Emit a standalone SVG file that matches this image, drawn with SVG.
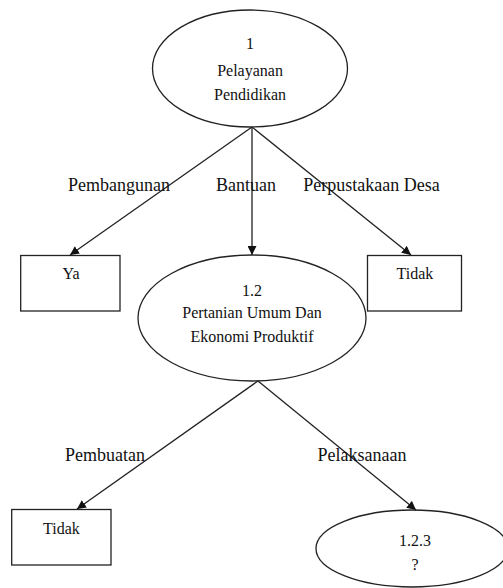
<svg xmlns="http://www.w3.org/2000/svg" width="503" height="588" viewBox="0 0 503 588">
<style>
.shape{fill:#fff;stroke:#222;stroke-width:1.3}
.edge{fill:none;stroke:#222;stroke-width:1.3}
.ntext{font-family:"Liberation Serif","Times New Roman",serif;font-size:16px;fill:#111;text-anchor:middle}
.lbl{font-family:"Liberation Serif","Times New Roman",serif;font-size:18px;fill:#111;text-anchor:middle}
</style>
<defs>
<marker id="arr" viewBox="0 0 10 10" refX="10" refY="5" markerWidth="9" markerHeight="9" markerUnits="userSpaceOnUse" orient="auto">
<path d="M0,0 L10,5 L0,10 z" fill="#111"/>
</marker>
</defs>
<rect width="503" height="588" fill="#fff"/>
<g id="connectors">
<line class="edge" x1="252" y1="127" x2="70" y2="255" marker-end="url(#arr)"/>
<line class="edge" x1="252" y1="127" x2="252" y2="255" marker-end="url(#arr)"/>
<line class="edge" x1="252" y1="127" x2="411" y2="255" marker-end="url(#arr)"/>
<line class="edge" x1="258" y1="381" x2="77" y2="509" marker-end="url(#arr)"/>
<line class="edge" x1="258" y1="381" x2="416" y2="510" marker-end="url(#arr)"/>
</g>
<g id="labels">
<text class="lbl" x="119" y="191">Pembangunan</text>
<text class="lbl" x="246" y="191">Bantuan</text>
<text class="lbl" x="371.5" y="191">Perpustakaan Desa</text>
<text class="lbl" x="105" y="461">Pembuatan</text>
<text class="lbl" x="362" y="461">Pelaksanaan</text>
</g>
<g id="node-1">
<ellipse class="shape" cx="250" cy="68.5" rx="97.5" ry="58.5"/>
<text class="ntext" font-family="Liberation Serif, serif" x="250" y="49">1</text>
<text class="ntext" font-family="Liberation Serif, serif" x="250" y="76">Pelayanan</text>
<text class="ntext" font-family="Liberation Serif, serif" x="250" y="100">Pendidikan</text>
</g>
<g id="node-ya">
<rect class="shape" x="20.7" y="255.5" width="99.3" height="55.5"/>
<text class="ntext" font-family="Liberation Serif, serif" x="71" y="279">Ya</text>
</g>
<g id="node-tidak-1">
<rect class="shape" x="367.5" y="255.5" width="94" height="55.5"/>
<text class="ntext" font-family="Liberation Serif, serif" x="415" y="279">Tidak</text>
</g>
<g id="node-1-2">
<ellipse class="shape" cx="252" cy="318" rx="114" ry="63"/>
<text class="ntext" font-family="Liberation Serif, serif" x="252" y="296">1.2</text>
<text class="ntext" font-family="Liberation Serif, serif" x="252" y="318">Pertanian Umum Dan</text>
<text class="ntext" font-family="Liberation Serif, serif" x="252" y="341.5">Ekonomi Produktif</text>
</g>
<g id="node-tidak-2">
<rect class="shape" x="11.7" y="509.5" width="99.3" height="55.5"/>
<text class="ntext" font-family="Liberation Serif, serif" x="61.5" y="534">Tidak</text>
</g>
<g id="node-1-2-3">
<ellipse class="shape" cx="412" cy="548.5" rx="96" ry="38.5"/>
<text class="ntext" font-family="Liberation Serif, serif" x="415" y="545.5">1.2.3</text>
<text class="ntext" font-family="Liberation Serif, serif" x="415" y="570">?</text>
</g>
</svg>
